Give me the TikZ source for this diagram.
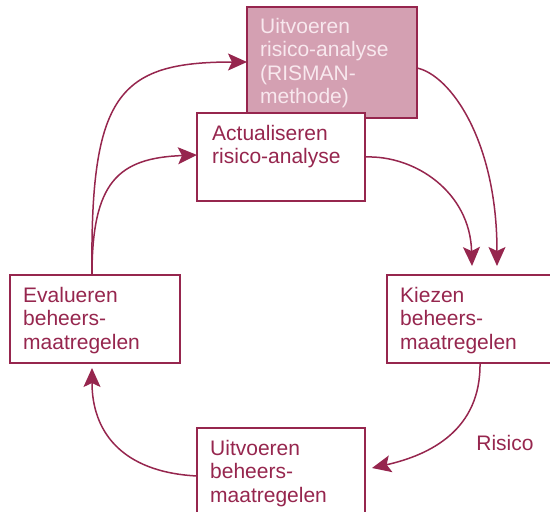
\documentclass[tikz,border=0pt]{standalone}
\usepackage{fontspec}
\setmainfont{Liberation Sans}
\usetikzlibrary{arrows.meta}
\definecolor{wine}{RGB}{150,38,78}
\definecolor{rose}{RGB}{212,160,178}
\definecolor{pale}{RGB}{248,232,238}
\tikzset{
  box/.style={draw=wine, line width=1.6pt, fill=white, rectangle, anchor=north west,
    inner sep=0pt, outer sep=0pt},
  lbl/.style={anchor=base west, inner sep=0pt, align=left, text=wine,
    font=\fontsize{21}{23.5}\selectfont},
  conn/.style={draw=wine, line width=1.5pt, -{Stealth[length=19pt,width=17pt,inset=4pt]}},
}
\begin{document}
\begin{tikzpicture}[x=1pt,y=-1pt]
\useasboundingbox (0,0) rectangle (550,512);
\begin{scope}
\clip (0,0) rectangle (550,512);
% boxes
\node[box, fill=rose, minimum width=170pt, minimum height=111pt] (risman) at (247,7) {};
\node[box, minimum width=168pt, minimum height=88pt] (actual) at (197,113) {};
\node[box, minimum width=170pt, minimum height=88pt] (eval) at (10,275) {};
\node[box, minimum width=180pt, minimum height=88pt] (kiezen) at (387,275) {};
\node[box, minimum width=168pt, minimum height=95pt] (uitv) at (197,428) {};
% texts (anchor is baseline of the last line)
\node[lbl, text=pale] (trisman) at ([xshift=13pt,yshift=-96.5pt]risman.north west) {Uitvoeren\\risico-analyse\\(RISMAN-\\methode)};
\node[lbl] (tactual) at ([xshift=15pt,yshift=-50.5pt]actual.north west) {Actualiseren\\risico-analyse};
\node[lbl] (teval) at ([xshift=13pt,yshift=-74pt]eval.north west) {Evalueren\\beheers-\\maatregelen};
\node[lbl] (tkiezen) at ([xshift=13pt,yshift=-74pt]kiezen.north west) {Kiezen\\beheers-\\maatregelen};
\node[lbl] (tuitv) at ([xshift=13pt,yshift=-74pt]uitv.north west) {Uitvoeren\\beheers-\\maatregelen};
\node[lbl, anchor=center] (risico) at (505,443) {Risico};
% connectors
\coordinate (e1) at ([xshift=82pt]eval.north west);
\coordinate (r1) at ([yshift=-55pt]risman.north west);
\draw[conn] (e1) .. controls (90,95) and (118,62) .. (r1);
\coordinate (a1) at ([yshift=-42pt]actual.north west);
\draw[conn] (e1) .. controls (92,182) and (118,158) .. (a1);
\coordinate (a2) at ([yshift=-44pt]actual.north east);
\coordinate (k1) at ([xshift=85pt,yshift=9pt]kiezen.north west);
\draw[conn] (a2) .. controls (415,155) and (470,192) .. (k1);
\coordinate (r2) at ([yshift=-61pt]risman.north east);
\coordinate (k2) at ([xshift=110pt,yshift=9pt]kiezen.north west);
\draw[conn] (r2) .. controls (450,75) and (497,140) .. (k2);
\coordinate (k3) at ([xshift=93pt]kiezen.south west);
\coordinate (u1) at ([xshift=7pt,yshift=-40pt]uitv.north east);
\draw[conn] (k3) .. controls (481,430) and (430,455) .. (u1);
\coordinate (u2) at ([yshift=-48pt]uitv.north west);
\coordinate (e2) at ([xshift=82pt,yshift=-5pt]eval.south west);
\draw[conn] (u2) .. controls (120,472) and (92,430) .. (e2);
\end{scope}
\end{tikzpicture}
\end{document}
